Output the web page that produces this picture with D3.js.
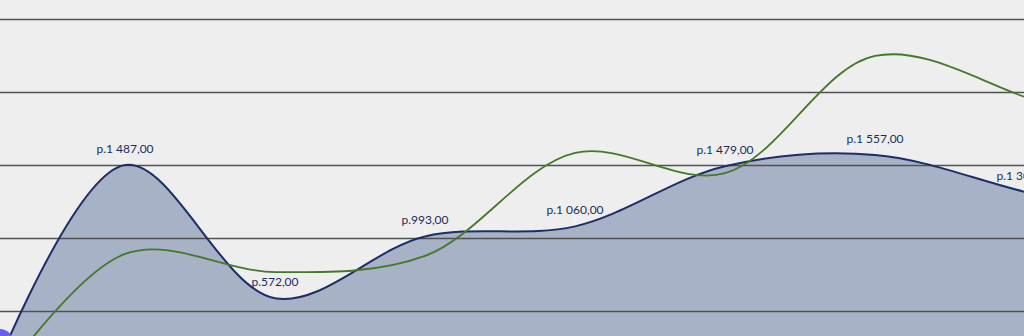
<!DOCTYPE html>
<html>
<head>
<meta charset="utf-8">
<script src="https://cdn.jsdelivr.net/npm/d3@7"></script>
<style>
  html, body { margin: 0; padding: 0; background: #eeeeee; overflow: hidden; }
  svg { display: block; }
  text { font-family: Lato, "Open Sans", sans-serif; }
</style>
</head>
<body>
<svg id="chart" width="1024" height="336"></svg>
<script>
// ---- data ----
const categories = ["P0", "P1", "P2", "P3", "P4", "P5", "P6", "P7", "P8"];
const priceValues = [-280, 1487, 560, 990, 1060, 1479, 1557, 1300, 1050];
const priceLabels = ["", "p.1 487,00", "p.572,00", "p.993,00", "p.1 060,00", "p.1 479,00", "p.1 557,00", "p.1 300,00", ""];
const trendValues = [-250, 868, 742, 854, 1571, 1430, 2247, 1961, 1500];
const gridValues = [471, 979, 1487, 1996, 2504];

// ---- layout ----
const W = 1024, H = 336;
const svg = d3.select("#chart");

const x = d3.scalePoint().domain(categories).range([-25, 1175]);
const y = d3.scaleLinear().domain([0, 2504]).range([378.6, 19]);

const curve = d3.curveCatmullRom.alpha(0.5);

svg.append("rect").attr("width", W).attr("height", H).attr("fill", "#eeeeee");

const priceData = categories.map((c, i) => ({ c, v: priceValues[i], label: priceLabels[i] }));
const trendData = categories.map((c, i) => ({ c, v: trendValues[i] }));

// area
svg.append("path")
  .datum(priceData)
  .attr("fill", "#a8b2c6")
  .attr("d", d3.area().curve(curve).x(d => x(d.c)).y0(H + 100).y1(d => y(d.v)));

// gridlines
svg.append("g")
  .selectAll("line")
  .data(gridValues)
  .join("line")
  .attr("x1", 0).attr("x2", W)
  .attr("y1", d => Math.round(y(d)) + 0.5).attr("y2", d => Math.round(y(d)) + 0.5)
  .attr("stroke", "#505050")
  .attr("stroke-width", 1.3);

// price line
svg.append("path")
  .datum(priceData)
  .attr("fill", "none")
  .attr("stroke", "#1c2e66")
  .attr("stroke-width", 2)
  .attr("d", d3.line().curve(curve).x(d => x(d.c)).y(d => y(d.v)));

// trend line
svg.append("path")
  .datum(trendData)
  .attr("fill", "none")
  .attr("stroke", "#44792a")
  .attr("stroke-width", 1.8)
  .attr("d", d3.line().curve(curve).x(d => x(d.c)).y(d => y(d.v)));

// purple marker bottom-left
svg.append("circle")
  .attr("cx", 0).attr("cy", 342).attr("r", 13)
  .attr("fill", "#6b5cf0");

// labels
const lab = svg.append("g").selectAll("g")
  .data(priceData.filter(d => d.label))
  .join("g")
  .attr("transform", d => `translate(${x(d.c)},${y(d.v)})`);

lab.append("line")
  .attr("x1", 0).attr("x2", 0).attr("y1", -10).attr("y2", -1)
  .attr("stroke", "#ffffff").attr("stroke-opacity", 0.6).attr("stroke-width", 1);

lab.append("text")
  .attr("y", -12)
  .attr("text-anchor", "middle")
  .attr("font-size", "12px")
  .attr("fill", "#1c2d5c")
  .text(d => d.label);
</script>
</body>
</html>
